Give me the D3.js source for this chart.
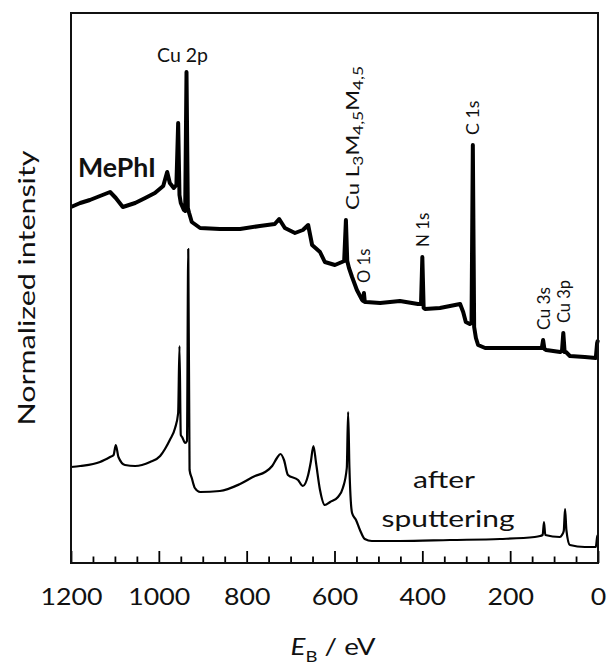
<!DOCTYPE html>
<html>
<head>
<meta charset="utf-8">
<script src="https://cdn.jsdelivr.net/npm/d3@7"></script>
<style>
  body { margin: 0; background: #fff; }
  text { font-family: Lato, "Open Sans", sans-serif; fill: #111; }
</style>
</head>
<body>
<div id="chart"></div>
<script>
/* XPS survey spectra (intensity in arbitrary units) */
const energyMePhI = [1200, 1179, 1157, 1134, 1111, 1098, 1082, 1054, 1031, 1009, 990, 981, 975, 966, 960, 956, 953, 950, 943, 940, 937, 934, 931, 925, 906, 861, 815, 770, 736, 726, 713, 690, 672, 660, 651, 633, 622, 599, 583, 578, 574, 571, 567, 560, 549, 537, 535, 533, 531, 528, 496, 451, 410, 403, 400, 397, 394, 360, 314, 307, 301, 292, 288, 285, 282, 278, 273, 257, 200, 132, 128, 125, 122, 118, 86, 82, 79, 76, 73, 64, 30, 5, 2, 0];
const intMePhI = [356, 360, 363, 367, 371, 365, 356, 360, 365, 370, 377, 391, 380, 375, 378, 440, 368, 360, 353, 352, 491, 355, 350, 341, 335, 334, 334, 337, 339, 344, 335, 330, 333, 338, 318, 311, 301, 298, 301, 302, 343, 302, 295, 286, 273, 263, 262, 270, 261, 261, 260, 262, 259, 259, 306, 255, 254, 255, 259, 251, 241, 239, 240, 418, 236, 225, 218, 215, 215, 215, 215, 223, 214, 213, 211, 212, 230, 211, 211, 207, 206, 205, 220, 223];

const energySputter = [1200, 1179, 1134, 1111, 1103, 1098, 1092, 1077, 1054, 1020, 997, 986, 975, 963, 956, 953, 950, 947, 940, 936, 933, 930, 925, 918, 906, 861, 815, 781, 758, 742, 731, 723, 715, 706, 683, 672, 660, 654, 648, 642, 633, 622, 610, 592, 581, 572, 569, 566, 560, 551, 542, 531, 515, 451, 337, 223, 144, 132, 126, 123, 120, 87, 82, 78, 75, 72, 64, 30, 5, 2, 0];
const intSputter = [96, 97, 101, 106, 108, 118, 106, 98, 97, 101, 107, 114, 123, 135, 150, 217, 128, 126, 120, 122, 314, 93, 85, 75, 71, 72, 79, 87, 91, 97, 105, 109, 103, 88, 83, 77, 88, 101, 117, 100, 73, 58, 61, 66, 75, 95, 151, 95, 50, 43, 33, 24, 22, 22, 23, 24, 26, 27, 28, 41, 28, 26, 28, 32, 54, 33, 18, 16, 16, 26, 28];

const peakNames = ["Cu L3M4,5M4,5", "O 1s", "N 1s", "C 1s", "Cu 3s", "Cu 3p"];
const peakEnergies = [574, 533, 400, 285, 125, 79];

const majorTicks = [1200, 1000, 800, 600, 400, 200, 0];
const minorTicks = d3.range(0, 1201, 50).filter(d => d % 200 !== 0);

const width = 607, height = 672;
const margin = {top: 13, right: 9, bottom: 109, left: 71};

const svg = d3.select("#chart")
  .append("svg")
  .attr("width", width)
  .attr("height", height);

const x = d3.scaleLinear()
  .domain([1200, 0])
  .range([margin.left, width - margin.right]);

const y = d3.scaleLinear()
  .domain([0, 550])
  .range([height - margin.bottom, margin.top]);

const line = d3.line()
  .x(d => x(d[0]))
  .y(d => y(d[1]));

const mephiData = d3.zip(energyMePhI, intMePhI);
const sputterData = d3.zip(energySputter, intSputter);

svg.append("path")
  .datum(mephiData)
  .attr("d", line)
  .attr("fill", "none")
  .attr("stroke", "#000")
  .attr("stroke-width", 4)
  .attr("stroke-linejoin", "round");

svg.append("path")
  .datum(sputterData)
  .attr("d", line.curve(d3.curveMonotoneX))
  .attr("fill", "none")
  .attr("stroke", "#000")
  .attr("stroke-width", 2.2)
  .attr("stroke-linejoin", "round");

/* axis: ticks point inwards, frame drawn separately */
const xAxis = d3.axisBottom(x)
  .tickValues(majorTicks)
  .tickSizeInner(-12)
  .tickSizeOuter(0)
  .tickPadding(26)
  .tickFormat(d3.format("d"));

const gx = svg.append("g")
  .attr("transform", `translate(0, ${height - margin.bottom})`)
  .call(xAxis);
gx.select(".domain").remove();
gx.selectAll("line").attr("stroke", "#000").attr("stroke-width", 1.8);
gx.selectAll("text")
  .attr("font-size", "23px")
  .attr("font-family", "Lato")
  .attr("fill", "#111")
  .attr("textLength", d => String(d).length * 15.5)
  .attr("lengthAdjust", "spacingAndGlyphs");

const gxMinor = svg.append("g")
  .attr("transform", `translate(0, ${height - margin.bottom})`)
  .call(d3.axisBottom(x).tickValues(minorTicks).tickSizeInner(-6.5).tickSizeOuter(0).tickFormat(""));
gxMinor.select(".domain").remove();
gxMinor.selectAll("line").attr("stroke", "#000").attr("stroke-width", 1.8);

svg.append("rect")
  .attr("x", margin.left)
  .attr("y", margin.top)
  .attr("width", width - margin.left - margin.right)
  .attr("height", height - margin.top - margin.bottom)
  .attr("fill", "none")
  .attr("stroke", "#111")
  .attr("stroke-width", 2);

/* peak labels, rotated, just above each peak of the upper spectrum */
const peakTop = e => {
  const i = d3.minIndex(energyMePhI, v => Math.abs(v - e));
  return intMePhI[i];
};

peakNames.forEach((name, i) => {
  const e = peakEnergies[i];
  const px = x(e);
  const py = y(peakTop(e)) - 10;
  const t = svg.append("text")
    .attr("transform", `translate(${px}, ${py}) rotate(-90)`)
    .attr("font-size", "18px")
    .attr("dy", i === 0 ? "0.75em" : "0.36em");
  if (i === 0) {
    t.append("tspan").text("Cu L");
    t.append("tspan").text("3").attr("font-size", "14px").attr("dy", 4);
    t.append("tspan").text("M").attr("dy", -4);
    t.append("tspan").text("4,5").attr("font-size", "14px").attr("dy", 4);
    t.append("tspan").text("M").attr("dy", -4);
    t.append("tspan").text("4,5").attr("font-size", "14px").attr("dy", 4);
    t.attr("textLength", 144).attr("lengthAdjust", "spacingAndGlyphs");
  } else {
    t.text(name)
      .attr("textLength", name.length * 8.6)
      .attr("lengthAdjust", "spacingAndGlyphs");
  }
});

svg.append("text")
  .attr("x", 157)
  .attr("y", 62)
  .attr("font-size", "19px")
  .attr("textLength", 51)
  .attr("lengthAdjust", "spacingAndGlyphs")
  .text("Cu 2p");

svg.append("text")
  .attr("x", 78)
  .attr("y", 177)
  .attr("font-size", "26px")
  .attr("font-weight", "bold")
  .attr("textLength", 78)
  .attr("lengthAdjust", "spacingAndGlyphs")
  .text("MePhI");

svg.append("text")
  .attr("x", 444)
  .attr("y", 488)
  .attr("text-anchor", "middle")
  .attr("font-size", "24px")
  .attr("textLength", 62)
  .attr("lengthAdjust", "spacingAndGlyphs")
  .text("after");

svg.append("text")
  .attr("x", 448)
  .attr("y", 527)
  .attr("text-anchor", "middle")
  .attr("font-size", "24px")
  .attr("textLength", 133)
  .attr("lengthAdjust", "spacingAndGlyphs")
  .text("sputtering");

/* axis titles */
svg.append("text")
  .attr("transform", "translate(35, 288) rotate(-90)")
  .attr("text-anchor", "middle")
  .attr("font-size", "24px")
  .attr("textLength", 275)
  .attr("lengthAdjust", "spacingAndGlyphs")
  .text("Normalized intensity");

const xt = svg.append("text")
  .attr("x", 333)
  .attr("y", 655)
  .attr("text-anchor", "middle")
  .attr("font-size", "24px")
  .attr("textLength", 85)
  .attr("lengthAdjust", "spacingAndGlyphs");
xt.append("tspan").text("E").attr("font-style", "italic");
xt.append("tspan").text("B").attr("font-size", "16px").attr("dy", 7);
xt.append("tspan").text(" / eV").attr("dy", -7);
</script>
</body>
</html>
